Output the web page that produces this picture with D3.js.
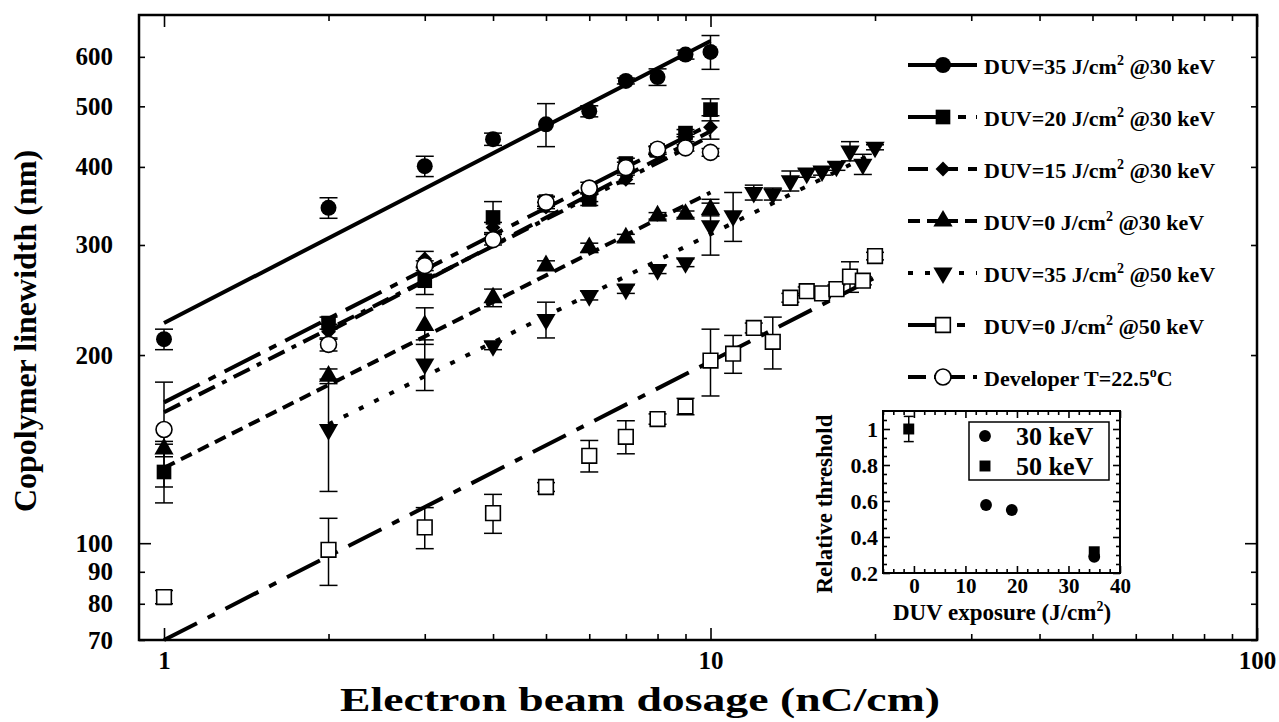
<!DOCTYPE html>
<html>
<head>
<meta charset="utf-8">
<title>Copolymer linewidth vs electron beam dosage</title>
<script src="https://d3js.org/d3.v7.min.js"></script>
<style>
body{margin:0;background:#fff;}
svg{display:block;font-family:"Liberation Serif","Times New Roman",serif;font-weight:bold;}
.axis path{display:none;}
.axis line{stroke:#000;stroke-width:1.6;}
.axis text{font-family:"Liberation Serif",serif;font-weight:bold;fill:#000;}
.frame{fill:none;stroke:#000;stroke-width:2.5;}
.err{stroke:#000;stroke-width:1.5;fill:none;}
.fit{fill:none;stroke:#000;stroke-width:4;}
</style>
</head>
<body>
<svg id="chart" width="1279" height="722"></svg>
<script>
// ---- data ----
var dose10 = [1,2,3,4,5,6,7,8,9,10];
var dose2to10 = [2,3,4,5,6,7,8,9,10];
var dose2to20 = [2,3,4,5,6,7,8,9,10,11,12,13,14,15,16,17,18,19,20];
var dose20 = [1,2,3,4,5,6,7,8,9,10,11,12,13,14,15,16,17,18,19,20];

var duv35kev30    = [212,344,401,443,468,491,549,557,605,611];
var duv35kev30Err = [8,13,15,10,37,10,6,17,10,38];
var duv20kev30    = [130,225,263,332,352,355,405,425,453,494];
var duv20kev30Err = [14,5,13,20,6,8,8,6,6,20];
var duv15kev30    = [218,285,320,345,358,382,425,445,463];
var duv15kev30Err = [6,8,6,6,6,6,6,6,20];
var duv0kev30     = [141.5,185,223,247,278,297,308,334,336,342];
var duv0kev30Err  = [4,5,15,8,5,5,4,4,4,8];
var duv35kev50    = [152,193.5,207,228,249,255,274,281,322,334,364,362,380,391,394,401,424,404,430];
var duv35kev50Err = [31,18,3,15,4,4,4,4,33,30,10,8,14,6,6,6,15,15,4];
var duv0kev50     = [82,97.6,106,111.7,123,138,148,158,165.5,196,201,221,210,247,253,251,255,267,263,288];
var duv0kev50Err  = [2,12,8,8,2,8,9,3,5,24,14,4,20,4,4,4,4,15,4,4];
var devT225       = [152,208,278,306,351,370,399,427,429,422];
var devT225Err    = [29,5,5,6,8,8,8,5,5,6];

// fitted power-law lines: [dose, linewidth] at both ends
var fit35kev30 = [[1,225],[10,636]];
var fit20kev30 = [[1,168],[10,468]];
var fit15kev30 = [[2,218],[10,456]];
var fit0kev30  = [[1,132],[10,364]];
var fit35kev50 = [[2,155],[20,422]];
var fit0kev50  = [[1,70],[20,266]];
var fitDev     = [[1,162],[10,448]];

var yTickVals = [70,80,90,100,200,300,400,500,600];
var xLabelVals = [1,10,100];

// inset: relative threshold vs DUV exposure
var insetDuv30 = [14,19,35];
var insetThr30 = [0.578,0.55,0.29];
var insetDuv50 = [-1,35];
var insetThr50 = [1.0,0.318];
var insetErr50 = [0.07,0];
var insetXTicks = [0,10,20,30,40];
var insetYTicks = [0.2,0.4,0.6,0.8,1];

// ---- chart ----
var svg = d3.select("#chart");
svg.append("rect").attr("width",1279).attr("height",722).attr("fill","#fff");

var x = d3.scaleLog().domain([0.9,100]).range([139,1257]);
var y = d3.scaleLog().domain([70,700]).range([640,15]);

var series = [
  {label:["DUV=35 J/cm","2"," @30 keV"], dose:dose10, v:duv35kev30, e:duv35kev30Err, fit:fit35kev30, sym:"circle", open:false, dash:null},
  {label:["DUV=20 J/cm","2"," @30 keV"], dose:dose10, v:duv20kev30, e:duv20kev30Err, fit:fit20kev30, sym:"square", open:false, dash:"40,10,8,10"},
  {label:["DUV=15 J/cm","2"," @30 keV"], dose:dose2to10, v:duv15kev30, e:duv15kev30Err, fit:fit15kev30, sym:"diamond", open:false, dash:"20,10"},
  {label:["DUV=0 J/cm","2"," @30 keV"], dose:dose10, v:duv0kev30, e:duv0kev30Err, fit:fit0kev30, sym:"up", open:false, dash:"12,7"},
  {label:["DUV=35 J/cm","2"," @50 keV"], dose:dose2to20, v:duv35kev50, e:duv35kev50Err, fit:fit35kev50, sym:"down", open:false, dash:"5,12"},
  {label:["DUV=0 J/cm","2"," @50 keV"], dose:dose20, v:duv0kev50, e:duv0kev50Err, fit:fit0kev50, sym:"square", open:true, dash:"37,12,8,12"},
  {label:["Developer  T=22.5","o","C"], dose:dose10, v:devT225, e:devT225Err, fit:fitDev, sym:"circle", open:true, dash:"18,8,5,8"}
];

function symbolPath(kind){
  if(kind=="circle") return d3.symbol(d3.symbolCircle,200)();
  if(kind=="square") return d3.symbol(d3.symbolSquare,215)();
  if(kind=="diamond") return d3.symbol(d3.symbolSquare,110)();
  return d3.symbol(d3.symbolTriangle,160)();
}
function symbolRot(kind){
  if(kind=="diamond") return " rotate(45)";
  if(kind=="down") return " rotate(180)";
  return "";
}

// axes: ticks point inward on all four sides
var xAll = d3.range(1,10).concat(d3.range(10,100,10)).concat([100]);
var gx = svg.append("g").attr("class","axis").attr("transform","translate(0,640)")
  .call(d3.axisBottom(x).tickValues(xAll).tickSizeInner(-6).tickSizeOuter(0).tickPadding(11)
    .tickFormat(function(d){ return xLabelVals.indexOf(d)>=0 ? d : ""; }));
gx.selectAll(".tick line").attr("y2",function(d){ return xLabelVals.indexOf(d)>=0 ? -12 : -6; });
gx.selectAll("text").style("font-size","25px");

var gxt = svg.append("g").attr("class","axis").attr("transform","translate(0,15)")
  .call(d3.axisTop(x).tickValues(xAll).tickSizeInner(-6).tickSizeOuter(0).tickFormat(""));
gxt.selectAll(".tick line").attr("y2",function(d){ return xLabelVals.indexOf(d)>=0 ? 12 : 6; });

var gy = svg.append("g").attr("class","axis").attr("transform","translate(139,0)")
  .call(d3.axisLeft(y).tickValues(yTickVals).tickSizeInner(-6).tickSizeOuter(0).tickPadding(26).tickFormat(d3.format("d")));
gy.selectAll(".tick line").attr("x2",function(d){ return d==100 ? 12 : 6; });
gy.selectAll("text").style("font-size","25px");

var gyr = svg.append("g").attr("class","axis").attr("transform","translate(1257,0)")
  .call(d3.axisRight(y).tickValues(yTickVals).tickSizeInner(-6).tickSizeOuter(0).tickFormat(""));
gyr.selectAll(".tick line").attr("x2",function(d){ return d==100 ? -12 : -6; });

svg.append("rect").attr("class","frame").attr("x",139).attr("y",15).attr("width",1118).attr("height",625);

// axis titles
svg.append("text").attr("transform","translate(36,331) rotate(-90)")
  .attr("text-anchor","middle").style("font-size","32px").text("Copolymer linewidth (nm)");
svg.append("text").attr("x",640).attr("y",711)
  .attr("text-anchor","middle").style("font-size","34px")
  .attr("textLength",600).attr("lengthAdjust","spacingAndGlyphs")
  .text("Electron beam dosage (nC/cm)");

// fit lines
var line = d3.line().x(function(d){ return x(d[0]); }).y(function(d){ return y(d[1]); });
svg.append("g").selectAll("path").data(series).enter().append("path")
  .attr("class","fit")
  .attr("d",function(s){ return line(s.fit); })
  .attr("stroke-dasharray",function(s){ return s.dash; });

// error bars and markers
series.forEach(function(s){
  var pts = s.dose.map(function(d,i){ return {x:d, v:s.v[i], e:s.e[i]}; });
  var g = svg.append("g");
  var eb = g.selectAll("g.eb").data(pts).enter().append("g").attr("class","err");
  eb.append("line").attr("x1",function(d){return x(d.x);}).attr("x2",function(d){return x(d.x);})
    .attr("y1",function(d){return y(d.v+d.e);}).attr("y2",function(d){return y(d.v-d.e);});
  eb.append("line").attr("x1",function(d){return x(d.x)-9;}).attr("x2",function(d){return x(d.x)+9;})
    .attr("y1",function(d){return y(d.v+d.e);}).attr("y2",function(d){return y(d.v+d.e);});
  eb.append("line").attr("x1",function(d){return x(d.x)-9;}).attr("x2",function(d){return x(d.x)+9;})
    .attr("y1",function(d){return y(d.v-d.e);}).attr("y2",function(d){return y(d.v-d.e);});
  g.selectAll("path.m").data(pts).enter().append("path")
    .attr("d",symbolPath(s.sym))
    .attr("transform",function(d){ return "translate("+x(d.x)+","+y(d.v)+")"+symbolRot(s.sym); })
    .attr("fill",s.open ? "#fff" : "#000")
    .attr("stroke","#000").attr("stroke-width",s.open ? 1.6 : 0);
});

// legend
var leg = svg.append("g");
series.forEach(function(s,i){
  var cy = 65 + i*52;
  leg.append("line").attr("class","fit").attr("x1",908).attr("x2",977).attr("y1",cy).attr("y2",cy)
    .attr("stroke-dasharray",s.dash);
  leg.append("path").attr("d",symbolPath(s.sym))
    .attr("transform","translate(943,"+cy+")"+symbolRot(s.sym))
    .attr("fill",s.open ? "#fff" : "#000").attr("stroke","#000").attr("stroke-width",s.open ? 1.6 : 0);
  var t = leg.append("text").attr("x",984).attr("y",cy+9).style("font-size","22px");
  t.append("tspan").text(s.label[0]);
  t.append("tspan").attr("dy",-9).style("font-size","14px").text(s.label[1]);
  t.append("tspan").attr("dy",9).text(s.label[2]);
});

// ---- inset ----
var ix = d3.scaleLinear().domain([-6,40]).range([883,1120]);
var iy = d3.scaleLinear().domain([0.2,1.1]).range([573,411]);
var inset = svg.append("g");
inset.append("rect").attr("x",883).attr("y",411).attr("width",237).attr("height",162).attr("fill","#fff");

var minorX = d3.range(-6,41,2).filter(function(d){ return d%10!=0; });
var minorY = d3.range(0.25,1.1,0.05).filter(function(d){ return Math.abs(d*5-Math.round(d*5))>0.01; });

var ib = inset.append("g").attr("class","axis").attr("transform","translate(0,573)")
  .call(d3.axisBottom(ix).tickValues(insetXTicks).tickSizeInner(-7).tickSizeOuter(0).tickPadding(5));
ib.selectAll("text").style("font-size","21px");
inset.append("g").attr("class","axis").attr("transform","translate(0,573)")
  .call(d3.axisBottom(ix).tickValues(minorX).tickSizeInner(-4).tickSizeOuter(0).tickFormat(""));
inset.append("g").attr("class","axis").attr("transform","translate(0,411)")
  .call(d3.axisTop(ix).tickValues(insetXTicks).tickSizeInner(-7).tickSizeOuter(0).tickFormat(""));
inset.append("g").attr("class","axis").attr("transform","translate(0,411)")
  .call(d3.axisTop(ix).tickValues(minorX).tickSizeInner(-4).tickSizeOuter(0).tickFormat(""));

var il = inset.append("g").attr("class","axis").attr("transform","translate(883,0)")
  .call(d3.axisLeft(iy).tickValues(insetYTicks).tickSizeInner(-7).tickSizeOuter(0).tickPadding(5)
    .tickFormat(function(d){ return d==1 ? "1" : d3.format(".1f")(d); }));
il.selectAll("text").style("font-size","22px");
inset.append("g").attr("class","axis").attr("transform","translate(883,0)")
  .call(d3.axisLeft(iy).tickValues(minorY).tickSizeInner(-4).tickSizeOuter(0).tickFormat(""));
inset.append("g").attr("class","axis").attr("transform","translate(1120,0)")
  .call(d3.axisRight(iy).tickValues(insetYTicks).tickSizeInner(-7).tickSizeOuter(0).tickFormat(""));
inset.append("g").attr("class","axis").attr("transform","translate(1120,0)")
  .call(d3.axisRight(iy).tickValues(minorY).tickSizeInner(-4).tickSizeOuter(0).tickFormat(""));

inset.append("rect").attr("x",883).attr("y",411).attr("width",237).attr("height",162)
  .attr("fill","none").attr("stroke","#000").attr("stroke-width",2);

// inset points
insetDuv50.forEach(function(d,i){
  if(insetErr50[i]>0){
    var cx = ix(d), t = iy(insetThr50[i]+insetErr50[i]), b = iy(insetThr50[i]-insetErr50[i]);
    inset.append("line").attr("class","err").attr("x1",cx).attr("x2",cx).attr("y1",t).attr("y2",b);
    inset.append("line").attr("class","err").attr("x1",cx-5).attr("x2",cx+5).attr("y1",t).attr("y2",t);
    inset.append("line").attr("class","err").attr("x1",cx-5).attr("x2",cx+5).attr("y1",b).attr("y2",b);
  }
});
inset.selectAll("path.c30").data(insetDuv30).enter().append("path")
  .attr("d",d3.symbol(d3.symbolCircle,110)())
  .attr("transform",function(d,i){ return "translate("+ix(d)+","+iy(insetThr30[i])+")"; });
inset.selectAll("path.s50").data(insetDuv50).enter().append("path")
  .attr("d",d3.symbol(d3.symbolSquare,120)())
  .attr("transform",function(d,i){ return "translate("+ix(d)+","+iy(insetThr50[i])+")"; });

// inset legend
inset.append("rect").attr("x",969).attr("y",422).attr("width",140).attr("height",58)
  .attr("fill","#fff").attr("stroke","#000").attr("stroke-width",1.5);
inset.append("path").attr("d",d3.symbol(d3.symbolCircle,110)()).attr("transform","translate(985,436)");
inset.append("path").attr("d",d3.symbol(d3.symbolSquare,120)()).attr("transform","translate(985,466)");
inset.append("text").attr("x",1016).attr("y",445).style("font-size","26px").text("30 keV");
inset.append("text").attr("x",1016).attr("y",475).style("font-size","26px").text("50 keV");

// inset titles
inset.append("text").attr("transform","translate(832,504) rotate(-90)")
  .attr("text-anchor","middle").style("font-size","23px").text("Relative threshold");
var it = inset.append("text").attr("x",1002).attr("y",620).attr("text-anchor","middle").style("font-size","23px");
it.append("tspan").text("DUV exposure (J/cm");
it.append("tspan").attr("dy",-9).style("font-size","14px").text("2");
it.append("tspan").attr("dy",9).text(")");
</script>
</body>
</html>
